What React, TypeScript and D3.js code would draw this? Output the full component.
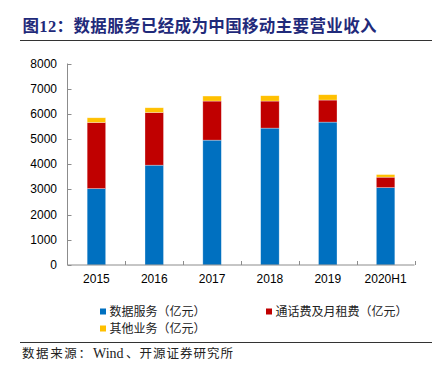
import React from "react";
import * as d3 from "d3";

const categories = ["2015", "2016", "2017", "2018", "2019", "2020H1"];
const dataService = [3034, 3964, 4958, 5435, 5674, 3074];
const voiceRent = [2624, 2092, 1551, 1074, 875, 413];
const otherBiz = [187, 187, 199, 211, 211, 103];
const seriesNames = ["数据服务（亿元）", "通话费及月租费（亿元）", "其他业务（亿元）"];
const seriesColors = ["#0070C0", "#C00000", "#FFC000"];
const yTicks = [0, 1000, 2000, 3000, 4000, 5000, 6000, 7000, 8000];

const W = 436;
const H = 377;
const plot = { left: 67.5, right: 414.5, top: 63.5, bottom: 265 };

export default function App() {
  const x = d3.scaleBand<string>().domain(categories).range([plot.left, plot.right]).paddingInner(0.68).paddingOuter(0.34);
  const y = d3.scaleLinear().domain([0, 8000]).range([plot.bottom, plot.top]);
  const rows = categories.map((c, i) => ({ cat: c, d: dataService[i], v: voiceRent[i], o: otherBiz[i] }));
  const stack = d3.stack<any>().keys(["d", "v", "o"])(rows);
  const band = (plot.right - plot.left) / categories.length;
  const cjk = "'Liberation Serif','Noto Sans CJK SC',serif";
  const axisColor = "#8c8c8c";
  return (
    <svg width={W} height={H} style={{ position: "absolute", left: 0, top: 0, background: "#fff" }}>
      <text x={22.5} y={32} fill="#1F2A7A" fontSize={16.5} fontWeight={700} fontFamily={cjk} textLength={354} lengthAdjust="spacing">
        图12：数据服务已经成为中国移动主要营业收入
      </text>
      <line x1={20} x2={432} y1={40.5} y2={40.5} stroke="#333" strokeWidth={1} />
      {stack.map((s, si) => (
        <g key={si} fill={seriesColors[si]}>
          {s.map((p, i) => (
            <rect key={i} x={x(categories[i])!} width={x.bandwidth()} y={y(p[1])} height={y(p[0]) - y(p[1])} stroke="#ffffff" strokeOpacity={0.5} strokeWidth={0.6} />
          ))}
        </g>
      ))}
      <line x1={plot.left} x2={plot.left} y1={plot.top} y2={plot.bottom} stroke={axisColor} strokeWidth={1} />
      <line x1={plot.left} x2={plot.right} y1={plot.bottom} y2={plot.bottom} stroke={axisColor} strokeWidth={1} />
      {yTicks.map((t) => (
        <g key={t}>
          <line x1={plot.left} x2={plot.left + 4} y1={Math.round(y(t)) + 0.5} y2={Math.round(y(t)) + 0.5} stroke={axisColor} />
          <text x={57} y={y(t) + 4} textAnchor="end" fontSize={12} fontFamily="'Liberation Sans',Arial,sans-serif" fill="#000">
            {t}
          </text>
        </g>
      ))}
      {categories.map((c, i) => (
        <g key={c}>
          <line x1={Math.round(plot.left + band * (i + 1)) + 0.5} x2={Math.round(plot.left + band * (i + 1)) + 0.5} y1={plot.bottom} y2={plot.bottom - 4} stroke={axisColor} />
          <text x={x(c)! + x.bandwidth() / 2} y={283} textAnchor="middle" fontSize={12} fontFamily="'Liberation Sans',Arial,sans-serif" fill="#000">
            {c}
          </text>
        </g>
      ))}
      {seriesNames.map((n, i) => {
        const lx = i === 1 ? 266 : 100;
        const ly = i === 2 ? 328.5 : 311.5;
        return (
          <g key={n}>
            <rect x={lx} y={ly - 3} width={6} height={6} fill={seriesColors[i]} />
            <text x={lx + 9.5} y={ly + 4.5} fontSize={12} fontFamily={cjk} fill="#222">
              {n}
            </text>
          </g>
        );
      })}
      <line x1={20} x2={432} y1={342.5} y2={342.5} stroke="#333" strokeWidth={1} />
      <text x={22} y={358} fontSize={12.5} fontFamily={cjk} fill="#222">
        <tspan textLength={69} lengthAdjust="spacing">数据来源：</tspan>
        <tspan x={93} fontSize={14}>Wind</tspan>
        <tspan x={126} textLength={107} lengthAdjust="spacing">、开源证券研究所</tspan>
      </text>
    </svg>
  );
}
